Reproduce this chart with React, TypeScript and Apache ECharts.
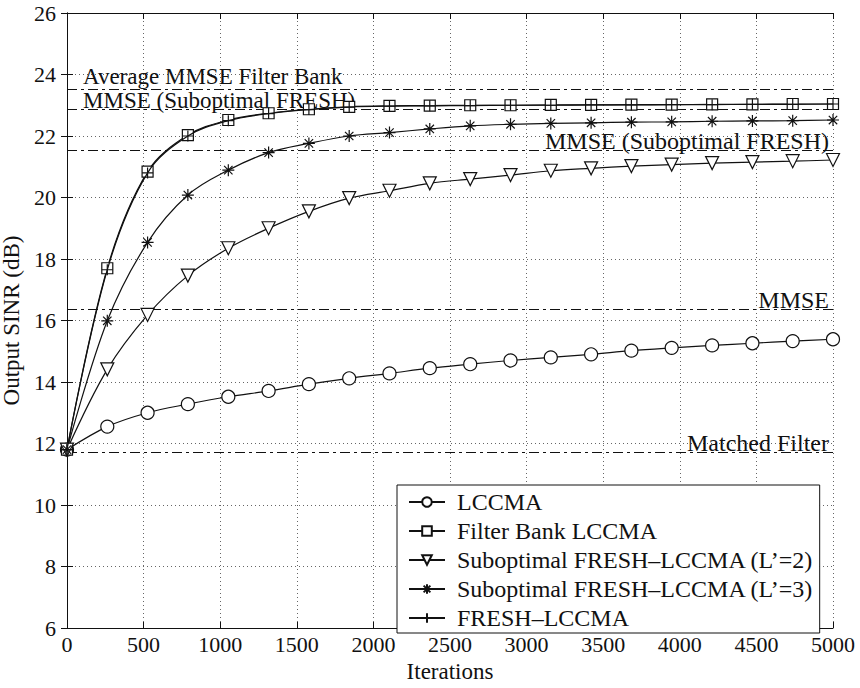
import React, { useEffect, useRef } from "react";
import * as echarts from "echarts";

// Iteration indices where the curves are sampled (and marked)
const ITERS = [0, 263, 526, 789, 1053, 1316, 1579, 1842, 2105, 2368, 2632, 2895, 3158, 3421, 3684, 3947, 4211, 4474, 4737, 5000];

const LCCMA = [11.8, 12.55, 13.0, 13.28, 13.52, 13.71, 13.93, 14.12, 14.28, 14.45, 14.58, 14.7, 14.8, 14.9, 15.02, 15.11, 15.19, 15.26, 15.33, 15.39];
const FILTER_BANK = [11.8, 17.7, 20.84, 22.03, 22.52, 22.74, 22.87, 22.95, 22.98, 22.99, 23.0, 23.0, 23.01, 23.01, 23.02, 23.02, 23.03, 23.03, 23.04, 23.04];
const SUB_L2 = [11.8, 14.41, 16.18, 17.46, 18.35, 19.0, 19.55, 19.98, 20.22, 20.46, 20.6, 20.73, 20.87, 20.95, 21.02, 21.07, 21.12, 21.15, 21.18, 21.22];
const SUB_L3 = [11.8, 15.99, 18.54, 20.08, 20.89, 21.46, 21.76, 22.0, 22.11, 22.23, 22.33, 22.38, 22.41, 22.43, 22.45, 22.46, 22.48, 22.49, 22.5, 22.52];
const FRESH = [11.8, 17.65, 20.8, 22.0, 22.5, 22.73, 22.86, 22.94, 22.97, 22.98, 22.99, 23.0, 23.0, 23.01, 23.01, 23.02, 23.02, 23.03, 23.03, 23.04];

// Horizontal benchmark levels (dB)
const REF_LEVELS = [23.53, 22.86, 21.55, 16.36, 11.73];
const REF_LABELS = ["Average MMSE Filter Bank", "MMSE (Suboptimal FRESH)", "MMSE (Suboptimal FRESH)", "MMSE", "Matched Filter"];
const REF_SIDE = ["start", "start", "end", "end", "end"];

const SERIES_NAMES = [
  "LCCMA",
  "Filter Bank LCCMA",
  "Suboptimal FRESH–LCCMA (L’=2)",
  "Suboptimal FRESH–LCCMA (L’=3)",
  "FRESH–LCCMA",
];

const FONT = "Liberation Serif";
const INK = "#111";

const TRI_DOWN = "path://M0,0 L10,0 L5,9 Z";
const ASTERISK = "path://M5,0 L5,10 M0,5 L10,5 M1.5,1.5 L8.5,8.5 M8.5,1.5 L1.5,8.5";
const PLUS = "path://M5,0 L5,10 M0,5 L10,5";

export default function App() {
  const ref = useRef<HTMLDivElement>(null);

  useEffect(() => {
    if (!ref.current) return;
    const chart = echarts.init(ref.current, null, { renderer: "svg" });

    const curve = (name: string, vals: number[], symbol: string, size: number, fill: string, z: number) => ({
      name,
      type: "line",
      data: ITERS.map((x, i) => [x, vals[i]]),
      smooth: 0.35,
      symbol,
      symbolSize: size,
      showAllSymbol: true,
      z,
      lineStyle: { color: INK, width: 1.2 },
      itemStyle: { color: fill, borderColor: INK, borderWidth: 1.2 },
    });

    const markData = REF_LEVELS.map((v, i) => {
      const atStart = REF_SIDE[i] === "start";
      return {
        yAxis: v,
        label: {
          show: true,
          formatter: REF_LABELS[i],
          position: atStart ? "insideStartTop" : "insideEndTop",
          distance: i === 0 ? [16, 3] : atStart ? [16, 0] : [4, 0],
          color: INK,
          fontFamily: FONT,
          fontSize: atStart ? 23 : 24,
          lineHeight: 18,
        },
      };
    });

    const axisText = { color: INK, fontFamily: FONT, fontSize: 22 };
    const gridLine = { show: true, lineStyle: { color: "#666", width: 1, type: [1, 3] } };

    chart.setOption({
      animation: false,
      backgroundColor: "#fff",
      grid: { left: 67, right: 27, top: 13, bottom: 60, containLabel: false, outerBoundsMode: "none" },
      xAxis: [
        {
          type: "value",
          min: 0,
          max: 5000,
          interval: 500,
          position: "bottom",
          name: "Iterations",
          nameLocation: "middle",
          nameGap: 28,
          nameTextStyle: { ...axisText, fontSize: 23 },
          axisLine: { lineStyle: { color: INK, width: 1 } },
          axisTick: { inside: true, length: 6, lineStyle: { color: INK } },
          axisLabel: { ...axisText, margin: 5, formatter: (v: number) => String(v) },
          splitLine: gridLine,
        },
        {
          type: "value",
          min: 0,
          max: 5000,
          interval: 500,
          position: "top",
          axisLine: { show: true, lineStyle: { color: INK, width: 1 } },
          axisTick: { inside: true, length: 6, lineStyle: { color: INK } },
          axisLabel: { show: false },
          splitLine: { show: false },
        },
      ],
      yAxis: [
        {
          type: "value",
          min: 6,
          max: 26,
          interval: 2,
          position: "left",
          name: "Output SINR (dB)",
          nameLocation: "middle",
          nameGap: 29,
          nameTextStyle: { ...axisText, fontSize: 23 },
          axisLine: { show: true, lineStyle: { color: INK, width: 1 } },
          axisTick: { show: true, inside: true, length: 6, lineStyle: { color: INK } },
          axisLabel: { ...axisText, margin: 11 },
          splitLine: gridLine,
        },
        {
          type: "value",
          min: 6,
          max: 26,
          interval: 2,
          position: "right",
          axisLine: { show: true, lineStyle: { color: INK, width: 1 } },
          axisTick: { show: true, inside: true, length: 6, lineStyle: { color: INK } },
          axisLabel: { show: false },
          splitLine: { show: false },
        },
      ],
      legend: {
        data: SERIES_NAMES,
        orient: "vertical",
        left: 397,
        top: 485,
        backgroundColor: "#fff",
        borderColor: INK,
        borderWidth: 1,
        borderRadius: 0,
        padding: [5, 6, 3, 11],
        itemWidth: 36,
        itemHeight: 12,
        itemGap: 5,
        selectedMode: false,
        textStyle: { color: INK, fontFamily: FONT, fontSize: 24, lineHeight: 23, padding: [0, 0, 0, 7] },
      },
      series: [
        {
          name: "levels",
          type: "line",
          data: [],
          z: 1,
          markLine: {
            silent: true,
            symbol: "none",
            lineStyle: { color: INK, width: 1.2, type: [10, 4, 3, 4] },
            data: markData,
          },
        },
        curve(SERIES_NAMES[0], LCCMA, "circle", 13, "#fff", 5),
        curve(SERIES_NAMES[1], FILTER_BANK, "rect", 11, "#fff", 5),
        curve(SERIES_NAMES[2], SUB_L2, TRI_DOWN, 13, "#fff", 5),
        curve(SERIES_NAMES[3], SUB_L3, ASTERISK, 12, "transparent", 5),
        curve(SERIES_NAMES[4], FRESH, PLUS, 11, "transparent", 6),
      ],
    });

    return () => chart.dispose();
  }, []);

  return (
    <div
      ref={ref}
      style={{ position: "fixed", left: 0, top: 0, width: 860, height: 688, background: "#fff" }}
    />
  );
}
